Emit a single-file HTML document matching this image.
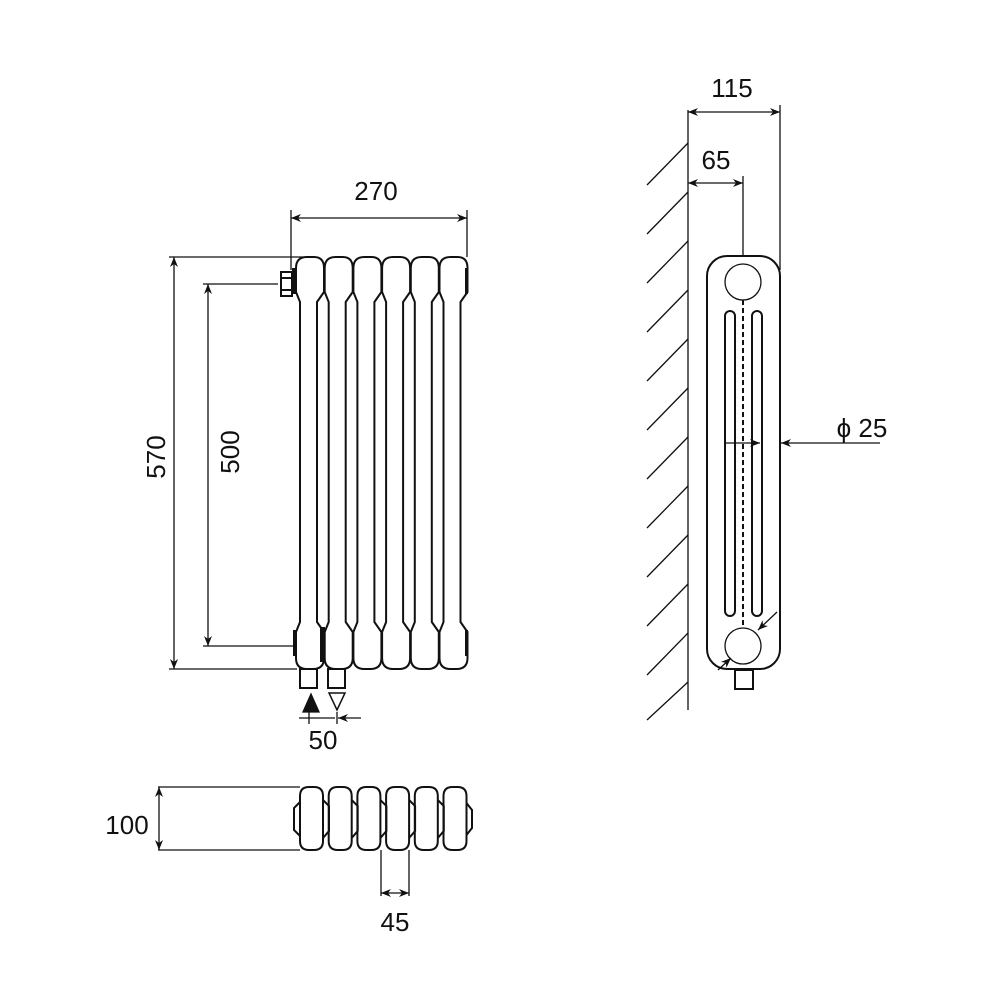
<!DOCTYPE html>
<html><head><style>body{margin:0;background:#fff}svg{display:block}text{font-family:"Liberation Sans",sans-serif;fill:#111}</style></head>
<body>
<svg width="1000" height="1000" viewBox="0 0 1000 1000" xmlns="http://www.w3.org/2000/svg">
<defs>
<marker id="a" viewBox="0 0 10 10" refX="10" refY="5" markerWidth="10" markerHeight="10" orient="auto-start-reverse" markerUnits="userSpaceOnUse"><path d="M0,1 L10,5 L0,9 L3,5 Z" fill="#111"/></marker>
</defs>
<g stroke="#111" stroke-width="1.3" fill="none">
<g stroke-width="2">
<path id="c" d="M300,302 L296,292 L296,268 Q296,257 307,257 L314,257 Q324,257 324,268 L324,292 L317,302 L317,622 L324,632 L324,658 Q324,669 313,669 L307,669 Q296,669 296,658 L296,632 L300,622 Z M300,302 L300,622"/>
<use href="#c" x="28.7"/><use href="#c" x="57.4"/><use href="#c" x="86.1"/><use href="#c" x="114.8"/><use href="#c" x="143.5"/>
</g>
<rect x="320" y="627" width="5" height="35" fill="#111" stroke="none"/>
<rect x="292" y="268" width="5" height="26" fill="#111" stroke="none"/>
<rect x="465" y="268" width="3" height="26" fill="#111" stroke="none"/>
<rect x="465" y="630" width="3" height="26" fill="#111" stroke="none"/>
<rect x="293" y="630" width="3" height="26" fill="#111" stroke="none"/>
<path d="M281,272 L292,272 L292,296 L281,296 Z M281,278 L292,278 M281,290 L292,290" stroke-width="2"/>
<rect x="300" y="669" width="17" height="19" stroke-width="2"/>
<rect x="328" y="669" width="17" height="19" stroke-width="2"/>
<path d="M303,712 L319,712 L311,694 Z" fill="#111"/>
<path d="M329,693 L345,693 L337,710 Z" stroke-width="1.5"/>
<path d="M299,718 L335,718"/>
<path d="M361,718 L338,718" marker-end="url(#a)"/>
<path d="M309,712 L309,724 M337,712 L337,724"/>
<path d="M291,218 L467,218" marker-start="url(#a)" marker-end="url(#a)"/>
<path d="M291,210 L291,270 M467,210 L467,257"/>
<path d="M174,257 L174,669" marker-start="url(#a)" marker-end="url(#a)"/>
<path d="M169,257 L310,257 M169,669 L297,669"/>
<path d="M208,284 L208,646" marker-start="url(#a)" marker-end="url(#a)"/>
<path d="M203,284 L278,284 M203,646 L297,646"/>
<g stroke-width="2">
<path id="b" d="M300,796 Q300,787 309,787 L314,787 Q323,787 323,796 L323,841 Q323,850 314,850 L309,850 Q300,850 300,841 Z M323,800 L329,806 L329,831 L323,838"/>
<use href="#b" x="28.7"/><use href="#b" x="57.4"/><use href="#b" x="86.1"/><use href="#b" x="114.8"/>
<path d="M443.5,796 Q443.5,787 452.5,787 L457.5,787 Q466.5,787 466.5,796 L466.5,841 Q466.5,850 457.5,850 L452.5,850 Q443.5,850 443.5,841 Z M466.5,803 L472,810 L472,828 L466.5,835"/>
<path d="M300,802 L294,808 L294,830 L300,836"/>
</g>
<path d="M159,787 L159,850" marker-start="url(#a)" marker-end="url(#a)"/>
<path d="M158,787 L300,787 M158,850 L300,850"/>
<path d="M381,893 L409,893" marker-start="url(#a)" marker-end="url(#a)"/>
<path d="M381,850 L381,896 M409,850 L409,896"/>
<path d="M688,110 L688,710"/>
<path d="M688,143 L647,185 M688,192 L647,234 M688,241 L647,283 M688,290 L647,332 M688,339 L647,381 M688,388 L647,430 M688,437 L647,479 M688,486 L647,528 M688,535 L647,577 M688,584 L647,626 M688,633 L647,675 M688,682 L647,720"/>
<path d="M688,112 L780,112" marker-start="url(#a)" marker-end="url(#a)"/>
<path d="M780,105 L780,270"/>
<path d="M688,183 L743,183" marker-start="url(#a)" marker-end="url(#a)"/>
<path d="M743,176 L743,256"/>
<rect x="707" y="256" width="73" height="413" rx="20" stroke-width="2"/>
<circle cx="743" cy="282" r="18"/>
<circle cx="743" cy="646" r="18"/>
<rect x="725" y="311" width="10" height="305" rx="5" stroke-width="2"/>
<rect x="752" y="311" width="10" height="305" rx="5" stroke-width="2"/>
<path d="M743,300 L743,628" stroke-width="2" stroke-dasharray="5,3"/>
<rect x="735" y="670" width="18" height="19" stroke-width="2"/>
<path d="M725,443 L760,443" marker-end="url(#a)"/>
<path d="M880,443 L781,443" marker-end="url(#a)"/>
<path d="M777,612 L758,630" marker-end="url(#a)"/>
<path d="M718,670 L731,658" marker-end="url(#a)"/>
</g>
<g font-size="26">
<text x="376" y="200" text-anchor="middle">270</text>
<text x="732" y="97" text-anchor="middle">115</text>
<text x="716" y="169" text-anchor="middle">65</text>
<text x="862" y="437" text-anchor="middle">ϕ 25</text>
<text x="323" y="749" text-anchor="middle">50</text>
<text x="127" y="834" text-anchor="middle">100</text>
<text x="395" y="931" text-anchor="middle">45</text>
<text transform="translate(165,457) rotate(-90)" text-anchor="middle">570</text>
<text transform="translate(239,452) rotate(-90)" text-anchor="middle">500</text>
</g>
</svg>
</body></html>
